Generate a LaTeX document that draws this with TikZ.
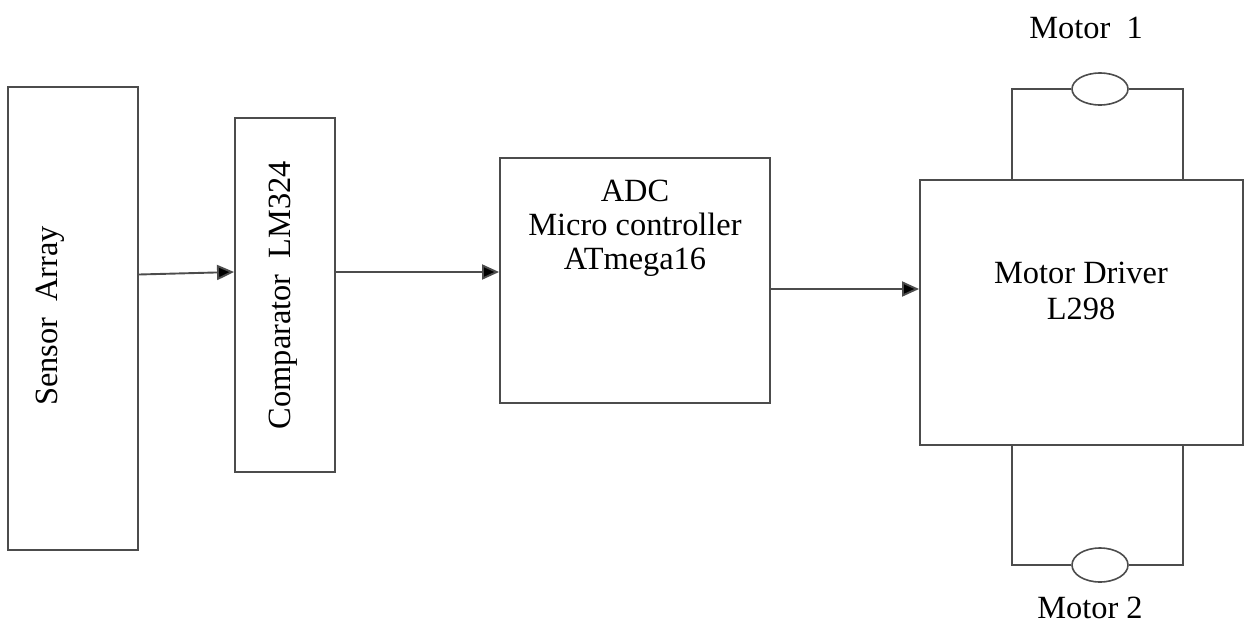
\documentclass[tikz,border=0pt]{standalone}
\usepackage{fontspec}
\setmainfont{Liberation Serif}
\usetikzlibrary{arrows.meta, shapes.geometric}

\begin{document}
\begin{tikzpicture}[
	x=0.5pt, y=-0.5pt,
	> = {Triangle[length=8.5pt, width=7.5pt, fill=black]},
	font=\fontsize{16.2}{19}\selectfont,
	block/.style = {draw=black!70, line width=0.95pt, rectangle,
		inner sep=0pt},
	motor/.style = {draw=black!70, line width=0.8pt, ellipse,
		minimum width=28pt, minimum height=16pt, inner sep=0pt},
	wire/.style = {draw=black!70, line width=0.95pt},
	lbl/.style = {draw=none, fill=none, align=center, inner sep=0pt},
	]
	\useasboundingbox (0,0) rectangle (1246,637);
	% blocks
	\node[block, minimum width=65pt, minimum height=231.5pt] (sensor) at (73,318.5) {};
	\node[lbl, rotate=90] (sensortext) at (50,316) {Sensor\ \ Array};
	\node[block, minimum width=50pt, minimum height=177pt] (comp) at (285,295) {};
	\node[lbl, rotate=90] (comptext) at (283,295) {Comparator\ \ LM324};
	\node[block, minimum width=135pt, minimum height=122.5pt] (adc) at (635,280.5) {};
	\node[lbl] (adctext) at (635,228) {ADC\\[-2pt]Micro controller\\[-2pt]ATmega16};
	\node[block, minimum width=161.5pt, minimum height=132.5pt] (driver) at (1081.5,312.5) {};
	\node[lbl] (drivertext) at (1081,291) {Motor Driver\\[-1pt]L298};
	% motors
	\node[motor] (m1) at (1100,89) {};
	\node[motor, minimum height=17pt] (m2) at (1100,565) {};
	\node[lbl] (m1text) at (1086,28) {Motor\ \ 1};
	\node[lbl] (m2text) at (1090,608) {Motor 2};
	\coordinate (dtl) at (1012,180);
	\coordinate (dtr) at (1183,180);
	\coordinate (dbl) at (1012,445);
	\coordinate (dbr) at (1183,445);
	\draw[wire] (dtl) |- (m1.west);
	\draw[wire] (m1.east) -| (dtr);
	\draw[wire] (dbl) |- (m2.west);
	\draw[wire] (m2.east) -| (dbr);
	% signal path
	\draw[wire, ->] ([yshift=22pt]sensor.east) -- ([yshift=11.5pt]comp.west);
	\draw[wire, ->] ([yshift=11.5pt]comp.east) -- ([yshift=4.25pt]adc.west);
	\draw[wire, ->] ([yshift=-4.25pt]adc.east) -- ([yshift=11.75pt]driver.west);
\end{tikzpicture}
\end{document}
